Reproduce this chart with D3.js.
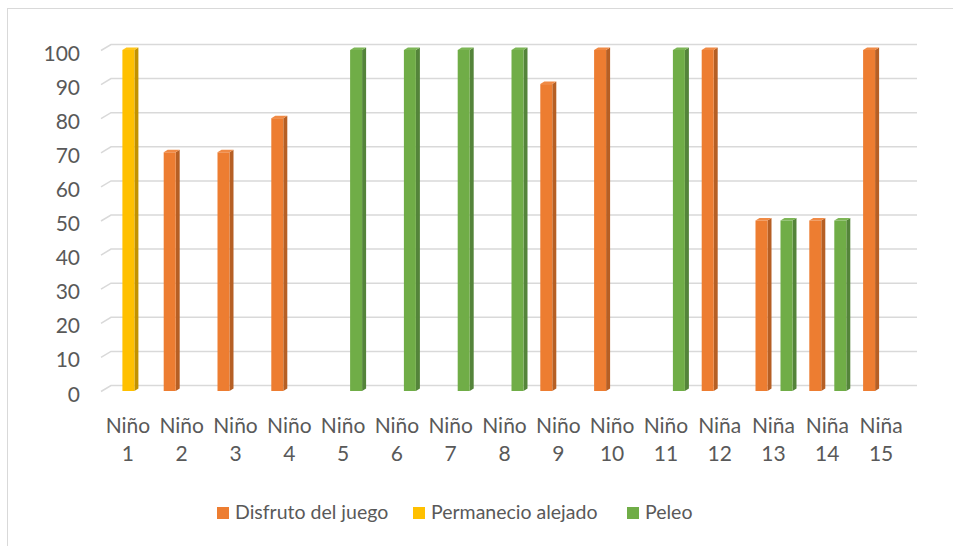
<!DOCTYPE html>
<html><head><meta charset="utf-8">
<script src="https://cdn.jsdelivr.net/npm/d3@7"></script>
<style>body{margin:0;background:#fff}svg{display:block}text{font-family:Lato,"Open Sans",sans-serif;fill:#595959}</style>
</head><body><svg id="c" width="953" height="546"></svg>
<script>
const categories = ["Niño 1","Niño 2","Niño 3","Niño 4","Niño 5","Niño 6","Niño 7","Niño 8","Niño 9","Niño 10","Niño 11","Niña 12","Niña 13","Niña 14","Niña 15"];
const seriesNames = ["Disfruto del juego","Permanecio alejado","Peleo"];
const disfruto = [0,70,70,80,0,0,0,0,90,100,0,100,50,50,100];
const alejado  = [100,0,0,0,0,0,0,0,0,0,0,0,0,0,0];
const peleo    = [0,0,0,0,100,100,100,100,0,0,100,0,50,50,0];
const yTicks = [0,10,20,30,40,50,60,70,80,90,100];
const colors = ["#ED7D31","#FFC000","#70AD47"];
const sideColors = ["#B65F24","#C29200","#54843A"];
const topColors = ["#F08A45","#FFC61A","#7DB656"];

const values = [disfruto, alejado, peleo];
const svg = d3.select("#c");
// border
svg.append("rect").attr("x",7.5).attr("y",8.5).attr("width",960).attr("height",560)
  .attr("fill","none").attr("stroke","#d9d9d9").attr("stroke-width",1);

const y = d3.scaleLinear().domain([0,100]).range([391,50]);
const x = d3.scaleBand().domain(categories).range([101,908]);
const xs = d3.scaleBand().domain(seriesNames).range([-18,19.5]);
const depthX = 10, depthY = 6, left = 101, right = 917;

// gridlines (3D wall)
const g = svg.append("g");
yTicks.forEach(t=>{
  const yf = y(t);
  g.append("path").attr("d",`M${left},${yf+0.5} L${left+depthX},${yf-depthY+0.5} L${right},${yf-depthY+0.5}`)
   .attr("fill","none").attr("stroke","#d9d9d9").attr("stroke-width",1.5);
});
// y labels
svg.append("g").selectAll("text").data(yTicks).join("text")
  .attr("x",80).attr("y",d=>y(d)+3).attr("dy","0.36em").attr("text-anchor","end")
  .attr("font-size",21).text(d=>d);

// bars
const bw = 12, sd = 4, td = 2.5;
const bars = svg.append("g");
seriesNames.forEach((s,si)=>{
  categories.forEach((c,ci)=>{
    const v = values[si][ci];
    if(!v) return;
    const x0 = x(c) + x.bandwidth()/2 + xs(s);
    const yt = y(v), yb = y(0);
    bars.append("path").attr("d",`M${x0+bw},${yt} L${x0+bw+sd},${yt-td} L${x0+bw+sd},${yb-td} L${x0+bw},${yb}Z`).attr("fill",sideColors[si]);
    bars.append("path").attr("d",`M${x0},${yt} L${x0+sd},${yt-td} L${x0+bw+sd},${yt-td} L${x0+bw},${yt}Z`).attr("fill",topColors[si]);
    bars.append("rect").attr("x",x0).attr("y",yt).attr("width",bw).attr("height",yb-yt).attr("fill",colors[si]);
  });
});

// category labels
const xl = svg.append("g");
categories.forEach(c=>{
  const parts = c.split(" ");
  const cx = x(c)+x.bandwidth()/2;
  xl.append("text").attr("x",cx).attr("y",433).attr("text-anchor","middle").attr("font-size",21).text(parts[0]);
  xl.append("text").attr("x",cx).attr("y",461).attr("text-anchor","middle").attr("font-size",21).text(parts[1]);
});

// legend
const legX = [217,413,627];
const lg = svg.append("g");
seriesNames.forEach((s,i)=>{
  lg.append("rect").attr("x",legX[i]).attr("y",507).attr("width",12).attr("height",12).attr("fill",colors[i]);
  lg.append("text").attr("x",legX[i]+18).attr("y",519).attr("font-size",19.5).text(s);
});
</script></body></html>
